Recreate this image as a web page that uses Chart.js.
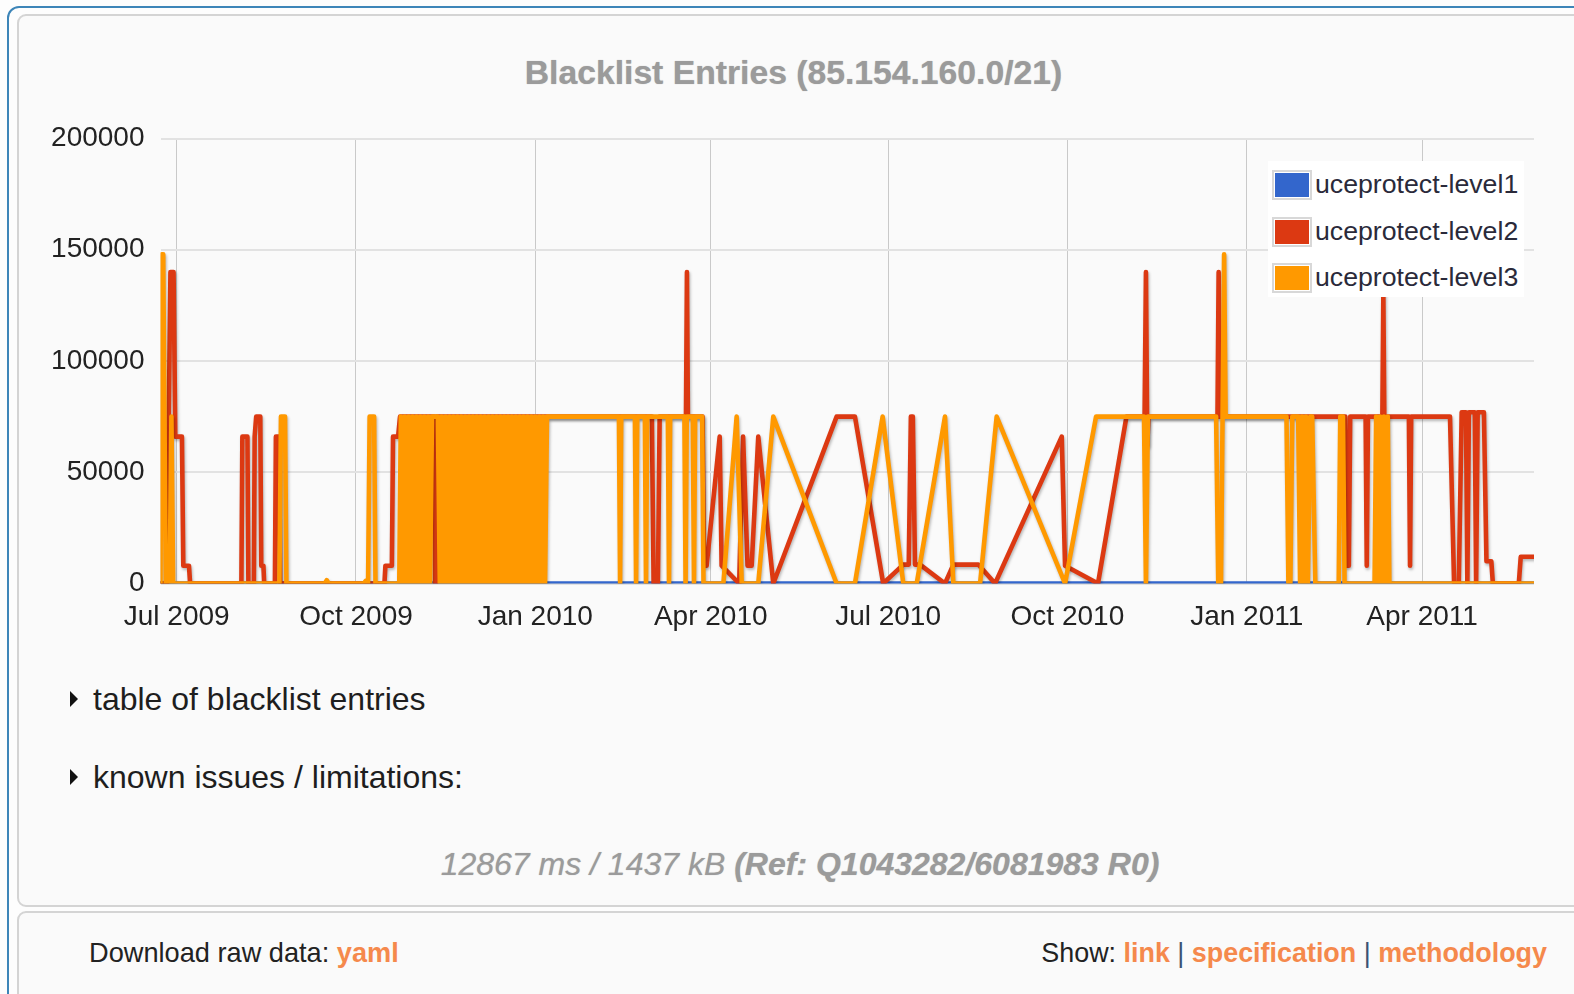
<!DOCTYPE html>
<html>
<head>
<meta charset="utf-8">
<title>Blacklist Entries</title>
<script src="https://cdn.jsdelivr.net/npm/chart.js@4.4.1/dist/chart.umd.min.js"></script>
<style>
  body { margin: 0; width: 1574px; height: 994px; overflow: hidden; position: relative;
         background: #fdfdfd; font-family: 'Liberation Sans', Arial, sans-serif; }
  #frame { position: absolute; left: 7px; top: 6px; width: 1640px; height: 1100px;
           border: 2px solid #3d85b8; border-radius: 12px; }
  .panel { position: absolute; left: 17px; width: 1640px; background: #fafafa;
           border: 2px solid #d4d4d4; border-radius: 9px; box-sizing: border-box; }
  #p1 { top: 14px; height: 893px; }
  #p2 { top: 911px; height: 200px; }
  #title { position: absolute; left: 293.5px; width: 1000px; top: 49px; text-align: center;
           font-weight: bold; font-size: 33.7px; line-height: 46px; color: #9b9b9b;
           text-shadow: 0 0 1px #b5b5b5; }
  #chartBox { position: absolute; left: 0; top: 110px; width: 1574px; height: 540px; }
  #legend { position: absolute; left: 1268px; top: 161px; width: 256px; height: 136px; background: #fff; }
  .lg-row { position: absolute; left: 0; height: 34px; }
  .lg-sw { position: absolute; left: 4px; top: 2px; width: 36px; height: 26px; border: 2px solid #d8d8d8; }
  .lg-sw span { position: absolute; left: 1px; top: 1px; right: 1px; bottom: 1px; }
  .lg-tx { position: absolute; left: 47px; top: 0; font-size: 26.7px; line-height: 32px; color: #2a2a3a;
           white-space: nowrap; }
  .toggle { position: absolute; left: 70px; font-size: 32px; line-height: 38px; color: #1e1e1e; white-space: nowrap; }
  .toggle i { position: absolute; left: 0; top: 11px; width: 0; height: 0;
              border-left: 8px solid #111; border-top: 8px solid transparent; border-bottom: 8px solid transparent; }
  .toggle span { margin-left: 23px; }
  #t1 { top: 680px; }
  #t2 { top: 758px; }
  #foot { position: absolute; left: 300px; width: 1000px; top: 844px; text-align: center;
          font-size: 32px; line-height: 40px; font-style: italic; color: #9b9b9b; text-shadow: 0 0 1px #bbb; }
  #foot b { font-weight: bold; }
  .dl { position: absolute; top: 936px; font-size: 27.2px; line-height: 34px; color: #222; white-space: nowrap; }
  .dl a { color: #f5894c; font-weight: bold; text-decoration: none; }
  .dl em { font-style: normal; color: #3a5272; }
  #dlLeft { left: 89px; }
  #dlRight { right: 27px; font-size: 26.9px; }
</style>
</head>
<body>
<div id="frame"></div>
<div class="panel" id="p1"></div>
<div class="panel" id="p2"></div>
<div id="title">Blacklist Entries (85.154.160.0/21)</div>
<div id="chartBox"><canvas id="blChart"></canvas></div>
<div id="legend"></div>
<div class="toggle" id="t1"><i></i><span>table of blacklist entries</span></div>
<div class="toggle" id="t2"><i></i><span>known issues / limitations:</span></div>
<div id="foot">12867 ms / 1437 kB <b>(Ref: Q1043282/6081983 R0)</b></div>
<div class="dl" id="dlLeft">Download raw data: <a>yaml</a></div>
<div class="dl" id="dlRight">Show: <a>link</a> <em>|</em> <a>specification</a> <em>|</em> <a>methodology</a></div>

<script>
// x values are days counted from 1 Jul 2009
const monthTicks = [0, 92, 184, 274, 365, 457, 549, 639];
const monthLabels = ["Jul 2009", "Oct 2009", "Jan 2010", "Apr 2010", "Jul 2010", "Oct 2010", "Jan 2011", "Apr 2011"];
const yTicks = [0, 50000, 100000, 150000, 200000];

const seriesNames = ["uceprotect-level1", "uceprotect-level2", "uceprotect-level3"];
const seriesColors = ["#3366cc", "#dc3912", "#ff9900"];

// uceprotect-level1
const level1 = [[-8.3, 0], [696.4, 0]];

// uceprotect-level2
const level2 = [
  [-8.3, 0], [-5.0, 0], [-3.2, 140000], [-1.6, 140000], [-0.7, 66000], [2.7, 66000], [3.4, 8000], [6.3, 8000], [6.9, 0],
  [33.2, 0], [33.7, 66000], [36.3, 66000], [36.8, 0],
  [39.6, 0], [40.0, 66000], [40.8, 75000], [42.9, 75000], [43.4, 8000], [44.5, 8000], [44.9, 0],
  [50.4, 0], [50.9, 66000], [52.6, 66000], [53.1, 0],
  [106.6, 0], [107.1, 8000], [110.4, 8000], [111.0, 66000], [113.6, 66000], [114.6, 75000],
  [132.2, 75000], [132.6, 0], [133.0, 75000],
  [243.8, 75000], [244.7, 0], [246.9, 0], [247.8, 75000],
  [261.3, 75000], [261.8, 140000], [262.3, 75000],
  [269.8, 75000], [270.6, 8000], [271.9, 8000], [278.6, 66000], [279.6, 8000], [288.6, 0], [290.6, 66000],
  [292.9, 8000], [295.0, 8000], [298.4, 66000], [306.1, 0],
  [338.6, 75000], [348.0, 75000], [362.5, 0], [372.8, 8500], [375.6, 8500], [376.7, 75000], [377.7, 75000],
  [378.8, 8500], [381.4, 8500], [394.2, 0], [398.5, 8500], [411.3, 8500], [419.9, 0], [454.1, 66000],
  [455.8, 8000], [472.7, 0], [487.3, 75000],
  [496.6, 75000], [497.3, 140000], [498.0, 62000], [498.6, 75000],
  [534.0, 75000], [534.6, 140000], [535.2, 75000],
  [599.6, 75000], [600.3, 8000], [601.4, 8000], [602.1, 75000],
  [610.0, 75000], [610.6, 8000], [611.2, 75000],
  [618.6, 75000], [619.1, 130000], [619.6, 75000],
  [632.2, 75000], [632.8, 8000], [633.4, 75000],
  [653.3, 75000], [655.4, 0], [657.8, 0], [659.3, 77000], [661.5, 77000], [662.2, 0], [663.0, 77000],
  [666.0, 77000], [666.7, 0], [667.5, 77000], [670.7, 77000], [672.0, 10000], [674.5, 10000], [675.3, 0],
  [688.6, 0], [689.6, 12000], [696.4, 12000]
];

// uceprotect-level3
const level3 = [
  [-8.3, 0], [-7.6, 148000], [-6.9, 148000], [-5.6, 0], [-3.6, 0], [-2.7, 75000], [-1.8, 0],
  [52.7, 0], [53.5, 75000], [55.6, 75000], [56.3, 0],
  [76.0, 0], [77.0, 1500], [78.0, 0],
  [96.0, 0], [97.0, 1200], [98.2, 0], [99.0, 75000], [101.3, 75000], [102.0, 0],
  [114.2, 0], [115, 75000], [116, 0], [117, 75000], [118, 0], [119, 75000], [120, 0], [121, 75000],
  [122, 0], [123, 75000], [124, 0], [125, 75000], [126, 0], [127, 75000], [128, 0], [129, 75000],
  [130, 0], [131, 75000],
  [134, 75000], [135, 0], [136, 75000], [137, 0], [138, 75000], [139, 0], [140, 75000], [141, 0],
  [142, 75000], [143, 0], [144, 75000], [145, 0], [146, 75000], [147, 0], [148, 75000], [149, 0],
  [150, 75000], [151, 0], [152, 75000], [153, 0], [154, 75000], [155, 0], [156, 75000], [157, 0],
  [158, 75000], [159, 0], [160, 75000], [161, 0], [162, 75000], [163, 0], [164, 75000], [165, 0],
  [166, 75000], [167, 0], [168, 75000], [169, 0], [170, 75000], [171, 0], [172, 75000], [173, 0],
  [174, 75000], [175, 0], [176, 75000], [177, 0], [178, 75000], [179, 0], [180, 75000], [181, 0],
  [182, 75000], [183, 0], [184, 75000], [185, 0], [186, 75000], [187, 0], [188, 75000], [189, 0],
  [190, 75000],
  [226.9, 75000], [227.5, 0], [228.1, 75000],
  [235.1, 75000], [235.7, 0], [236.3, 75000],
  [240.2, 75000], [240.8, 0], [241.4, 75000],
  [252.0, 75000], [252.6, 0], [253.2, 75000],
  [260.5, 75000], [261.1, 0], [261.7, 75000],
  [264.8, 75000], [265.4, 0], [266.0, 75000],
  [269.6, 75000], [270.3, 0], [280.5, 0], [287.3, 75000], [289.9, 0], [298.4, 0], [306.1, 75000],
  [338.6, 0], [348.0, 0], [362.2, 75000], [372.8, 0], [379.7, 0], [394.2, 75000], [398.5, 0],
  [412.2, 0], [420.7, 75000], [455.8, 0], [471.7, 75000],
  [496.3, 75000], [497.3, 0], [498.3, 75000],
  [533.3, 75000], [534.4, 0], [535.8, 0], [537.4, 148000], [538.2, 75000],
  [569.4, 75000], [570.4, 0], [571.4, 0], [572.4, 75000], [575.4, 75000], [576.4, 0], [577.4, 75000],
  [578.4, 0], [579.4, 75000], [580.4, 0], [581.6, 75000], [582.6, 75000], [584.2, 0],
  [596.2, 0], [597.0, 75000], [598.4, 75000], [599.2, 0],
  [614.6, 0], [615.4, 75000], [616.4, 0], [617.4, 75000], [618.4, 0], [619.4, 75000], [620.4, 0],
  [621.4, 75000], [622.2, 0],
  [696.4, 0]
];

const allSeries = [level1, level2, level3];
const fontFamily = "'Liberation Sans', Arial, sans-serif";

// ombra grigia sotto le linee, come nel grafico originale
const lineShadow = {
  id: "lineShadow",
  beforeDatasetDraw(chart) {
    const c = chart.ctx;
    c.save();
    c.shadowColor = "rgba(0,0,0,0.28)";
    c.shadowBlur = 3;
    c.shadowOffsetX = 1;
    c.shadowOffsetY = 2;
  },
  afterDatasetDraw(chart) {
    chart.ctx.restore();
  }
};

const blChart = new Chart(document.getElementById("blChart"), {
  type: "line",
  data: {
    datasets: allSeries.map((pts, i) => ({
      label: seriesNames[i],
      data: pts.map(([x, y]) => ({ x, y })),
      borderColor: seriesColors[i],
      backgroundColor: seriesColors[i],
      borderWidth: 4.6,
      pointRadius: 0,
      tension: 0,
      fill: false,
      order: 3 - i
    }))
  },
  options: {
    responsive: true,
    maintainAspectRatio: false,
    animation: false,
    devicePixelRatio: 1,
    layout: { padding: { top: 28.5, right: 40, bottom: 0, left: 0 } },
    elements: { line: { borderJoinStyle: "round", borderCapStyle: "round" } },
    plugins: {
      legend: { display: false },
      tooltip: { enabled: false },
      title: { display: false }
    },
    scales: {
      x: {
        type: "linear",
        min: -8.3,
        max: 696.4,
        afterBuildTicks: s => { s.ticks = monthTicks.map(v => ({ value: v })); },
        afterFit: s => { s.height = 66.5; },
        grid: { color: "#c9c9c9", lineWidth: 1, drawTicks: false },
        border: { display: false },
        ticks: {
          autoSkip: false,
          maxRotation: 0,
          padding: 17,
          color: "#222",
          font: { family: fontFamily, size: 28 },
          callback: v => monthLabels[monthTicks.indexOf(v)]
        }
      },
      y: {
        min: 0,
        max: 200000,
        afterBuildTicks: s => { s.ticks = yTicks.map(v => ({ value: v })); },
        afterFit: s => { s.width = 160.5; },
        grid: { color: "#e2e2e2", lineWidth: 2, drawTicks: true, tickLength: 16, tickColor: "rgba(0,0,0,0)" },
        border: { display: false },
        ticks: {
          padding: 0,
          color: "#222",
          font: { family: fontFamily, size: 28 },
          callback: v => String(v)
        }
      }
    }
  },
  plugins: [lineShadow]
});

// legenda in alto a destra, dentro l'area del grafico
const legendEl = document.getElementById("legend");
seriesNames.forEach((name, i) => {
  const row = document.createElement("div");
  row.className = "lg-row";
  row.style.top = (7 + i * 46.5) + "px";
  const sw = document.createElement("div");
  sw.className = "lg-sw";
  const fillEl = document.createElement("span");
  fillEl.style.background = seriesColors[i];
  sw.appendChild(fillEl);
  const tx = document.createElement("div");
  tx.className = "lg-tx";
  tx.textContent = name;
  row.appendChild(sw);
  row.appendChild(tx);
  legendEl.appendChild(row);
});
</script>
</body>
</html>
